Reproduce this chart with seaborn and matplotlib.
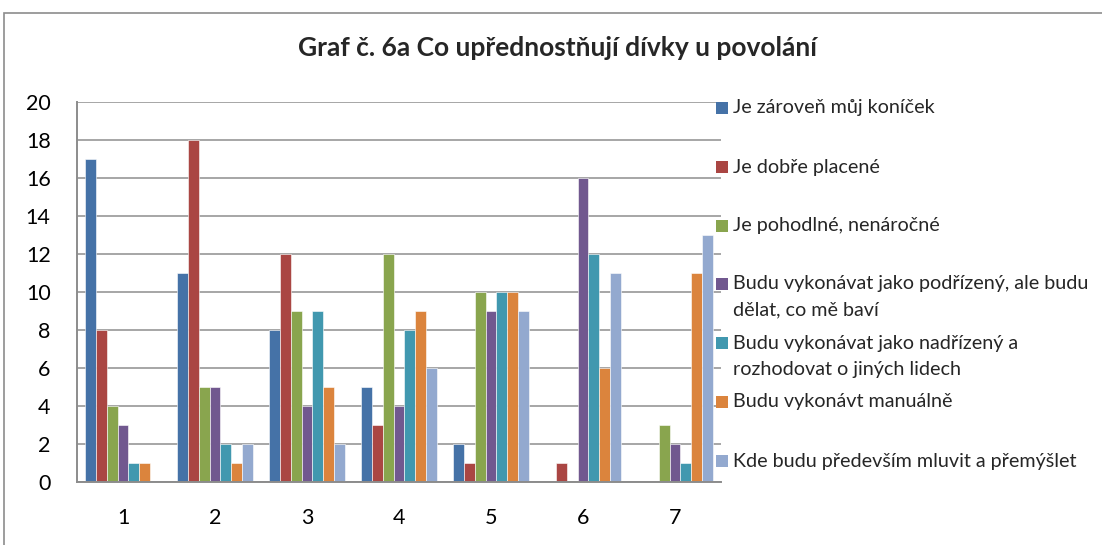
import pandas as pd
import matplotlib
matplotlib.use('Agg')
import matplotlib.pyplot as plt
import seaborn as sns
from matplotlib.patches import Rectangle

# Data
categories = ['1', '2', '3', '4', '5', '6', '7']
series_names = [
    'Je zároveň můj koníček',
    'Je dobře placené',
    'Je pohodlné, nenáročné',
    'Budu vykonávat jako podřízený, ale budu\ndělat, co mě baví',
    'Budu vykonávat jako nadřízený a\nrozhodovat o jiných lidech',
    'Budu vykonávt manuálně',
    'Kde budu především mluvit a přemýšlet',
]
konicek = [17, 11, 8, 5, 2, 0, 0]
placene = [8, 18, 12, 3, 1, 1, 0]
pohodlne = [4, 5, 9, 12, 10, 0, 3]
podrizeny = [3, 5, 4, 4, 9, 16, 2]
nadrizeny = [1, 2, 9, 8, 10, 12, 1]
manualne = [1, 1, 5, 9, 10, 6, 11]
mluvit = [0, 2, 2, 6, 9, 11, 13]

colors = ['#4572A7', '#AA4643', '#89A54E', '#71588F', '#4198AF', '#DB843D', '#93A9CF']

values = [konicek, placene, pohodlne, podrizeny, nadrizeny, manualne, mluvit]
rows = []
for name, vals in zip(series_names, values):
    for cat, v in zip(categories, vals):
        rows.append({'skupina': cat, 'serie': name, 'pocet': v})
df = pd.DataFrame(rows)

sns.set_theme(style='white')
plt.rcParams['font.family'] = ['Lato', 'DejaVu Sans']

fig = plt.figure(figsize=(11.02, 5.45), dpi=100)
ax = fig.add_axes([77 / 1102, 1 - 482 / 545, (721 - 77) / 1102, (482 - 102) / 545])

sns.barplot(data=df, x='skupina', y='pocet', hue='serie', order=categories,
            hue_order=series_names, palette=colors, saturation=1, width=0.826, gap=0,
            edgecolor='white', linewidth=0.4, ax=ax, legend=False)

ax.set_ylim(0, 20)
ax.set_yticks(range(0, 21, 2))
ax.set_xlim(-0.5, 6.5)
ax.yaxis.grid(True, color='#A6A6A6', linewidth=1.4)
ax.set_axisbelow(True)
ax.set_xlabel('')
ax.set_ylabel('')
ax.tick_params(axis='both', length=0, labelsize=15.5, colors='black')
ax.tick_params(axis='y', pad=19)
ax.tick_params(axis='x', pad=19)
for side in ['top', 'right']:
    ax.spines[side].set_visible(False)
for side in ['left', 'bottom']:
    ax.spines[side].set_color('#8C8C8C')
    ax.spines[side].set_linewidth(1.4)

# chart frame
fig.patches.append(Rectangle((4 / 1102, -0.1), 1.2, 0.1 + 1 - 13 / 545,
                             transform=fig.transFigure, fill=False,
                             edgecolor='#8C8C8C', linewidth=1.2))

fig.text(557 / 1102, 1 - 48 / 545, 'Graf č. 6a Co upřednostňují dívky u povolání',
         ha='center', va='center', fontsize=19, fontweight='bold')

# legend
legend_y = [108, 167, 226, 284, 343, 402, 461]
for name, col, yy in zip(series_names, colors, legend_y):
    fig.patches.append(Rectangle((716 / 1102, 1 - (yy + 6) / 545), 12 / 1102, 12 / 545,
                                 transform=fig.transFigure, facecolor=col,
                                 edgecolor='none'))
    for i, line in enumerate(name.split('\n')):
        fig.text(733 / 1102, 1 - (yy + 26 * i) / 545, line, ha='left', va='center',
                 fontsize=14.2)

fig.savefig('out.png', dpi=100)
